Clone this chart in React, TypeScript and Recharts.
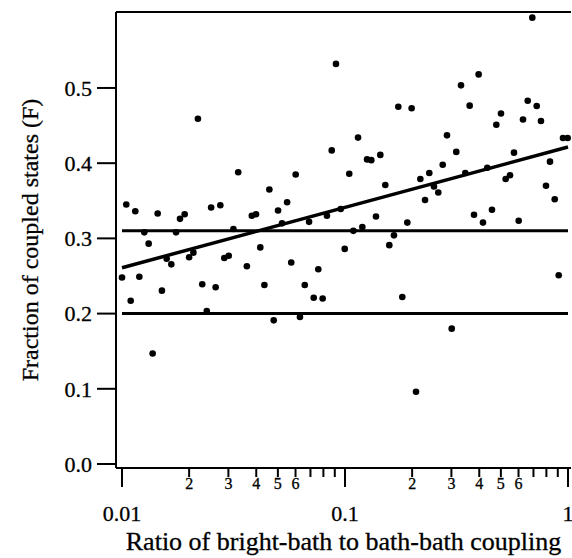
import { ScatterChart, Scatter, XAxis, YAxis, ReferenceLine } from 'recharts'

// coupling ratio (x) and fraction of coupled states (y) for each run
const ratio = [
  0.01, 0.01045, 0.01094, 0.01147, 0.01196, 0.01259, 0.01317, 0.01372, 0.01445, 0.0151,
  0.01586, 0.01664, 0.01747, 0.0182, 0.0191, 0.02, 0.0209, 0.0219, 0.0229, 0.024,
  0.0251, 0.0263, 0.0276, 0.02875, 0.0301, 0.0316, 0.0332, 0.0363, 0.0382, 0.0399,
  0.0417, 0.0435, 0.0458, 0.0479, 0.0501, 0.0522, 0.055, 0.0574, 0.0601, 0.0628,
  0.066, 0.069, 0.0724, 0.0759, 0.0794, 0.083, 0.0872, 0.0911, 0.0957, 0.0997,
  0.1045, 0.109, 0.1144, 0.1196, 0.1256, 0.1312, 0.1377, 0.144, 0.1516, 0.158,
  0.1658, 0.1734, 0.1807, 0.1903, 0.199, 0.2082, 0.2177, 0.2285, 0.2388, 0.2506,
  0.262, 0.2743, 0.2867, 0.301, 0.3155, 0.3313, 0.3463, 0.3623, 0.3789, 0.3975,
  0.4157, 0.4345, 0.4561, 0.4771, 0.5006, 0.5255, 0.5495, 0.5726, 0.601, 0.6284,
  0.6597, 0.6918, 0.7239, 0.7565, 0.7967, 0.8304, 0.8719, 0.9085, 0.9497, 0.9965,
]
const fraction = [
  0.248, 0.345, 0.217, 0.336, 0.249, 0.308, 0.293, 0.147, 0.333, 0.2305,
  0.273, 0.2655, 0.308, 0.326, 0.332, 0.275, 0.281, 0.459, 0.239, 0.2035,
  0.341, 0.235, 0.344, 0.274, 0.277, 0.3125, 0.388, 0.263, 0.33, 0.332,
  0.288, 0.238, 0.365, 0.191, 0.337, 0.32, 0.348, 0.268, 0.385, 0.1955,
  0.238, 0.322, 0.221, 0.259, 0.22, 0.33, 0.417, 0.532, 0.339, 0.286,
  0.386, 0.31, 0.434, 0.315, 0.405, 0.404, 0.329, 0.411, 0.371, 0.291,
  0.304, 0.475, 0.222, 0.321, 0.473, 0.096, 0.379, 0.351, 0.387, 0.369,
  0.361, 0.398, 0.437, 0.18, 0.415, 0.5035, 0.387, 0.4765, 0.3315, 0.518,
  0.321, 0.394, 0.338, 0.451, 0.466, 0.379, 0.384, 0.414, 0.3235, 0.458,
  0.483, 0.5935, 0.476, 0.456, 0.37, 0.402, 0.352, 0.251, 0.4335, 0.4335,
]

// linear fit in log(x)
const fitX = [0.01, 1]
const fitY = [0.261, 0.4215]
// horizontal reference levels
const levels = [0.31, 0.2]

const xTicks = [
  0.01, 0.02, 0.03, 0.04, 0.05, 0.06, 0.07, 0.08, 0.09,
  0.1, 0.2, 0.3, 0.4, 0.5, 0.6, 0.7, 0.8, 0.9, 1,
]
const yTicks = [0, 0.1, 0.2, 0.3, 0.4, 0.5]

const points = ratio.map((x, i) => ({ x, y: fraction[i] }))
const fit = fitX.map((x, i) => ({ x, y: fitY[i] }))
const levelLines = levels.map((y) => [{ x: 0.01, y }, { x: 1, y }])

const FONT = 'Liberation Serif'
const X_DOMAIN = [0.009399, 1.0315]
const Y_DOMAIN = [-0.0053, 0.601]

function XTick(props: any) {
  const { x, y, payload } = props
  const v = payload.value
  const lg = Math.log10(v)
  const major = Math.abs(lg - Math.round(lg)) < 1e-6
  const mant = Math.round(v / Math.pow(10, Math.floor(lg + 1e-9)))
  return (
    <g>
      <line x1={x} x2={x} y1={y} y2={y + (major ? 19 : 9)} stroke="#000" strokeWidth={2} />
      {major && (
        <text x={x} y={y + 53} textAnchor="middle" fontFamily={FONT} fontSize={22} fill="#000" stroke="#000" strokeWidth={0.3}>
          {v === 1 ? '1' : String(v)}
        </text>
      )}
      {!major && mant <= 6 && (
        <text x={x} y={y + 21} textAnchor="middle" fontFamily={FONT} fontSize={16} fill="#000" stroke="#000" strokeWidth={0.3}>
          {mant}
        </text>
      )}
    </g>
  )
}

const dot = (p: any) => <circle cx={p.cx} cy={p.cy} r={3.3} fill="#000" />
const none = () => <g />

export default function App() {
  return (
    <div style={{ position: 'absolute', left: 0, top: 0, background: '#fff' }}>
      <ScatterChart width={572} height={558} margin={{ top: 12, right: 1, bottom: 0, left: 0 }}>
        <XAxis
          dataKey="x"
          type="number"
          scale="log"
          domain={X_DOMAIN}
          allowDataOverflow
          ticks={xTicks}
          interval={0}
          tick={<XTick />}
          tickLine={false}
          tickSize={0}
          tickMargin={0}
          height={90}
          axisLine={{ stroke: '#000', strokeWidth: 2 }}
          label={(p: any) => (
            <text
              x={p.viewBox.x + p.viewBox.width / 2}
              y={550}
              textAnchor="middle"
              fontFamily={FONT}
              fontSize={26}
              fill="#000"
              stroke="#000"
              strokeWidth={0.3}
            >
              Ratio of bright-bath to bath-bath coupling
            </text>
          )}
        />
        <YAxis
          dataKey="y"
          type="number"
          domain={Y_DOMAIN}
          allowDataOverflow
          ticks={yTicks}
          interval={0}
          width={116}
          tickSize={19}
          tickMargin={5}
          tickFormatter={(v: number) => v.toFixed(1)}
          tick={{ fill: '#000', fontFamily: FONT, fontSize: 22, stroke: '#000', strokeWidth: 0.3 }}
          tickLine={{ stroke: '#000', strokeWidth: 2 }}
          axisLine={{ stroke: '#000', strokeWidth: 2 }}
          label={(p: any) => {
            const cx = 30
            const cy = p.viewBox.y + p.viewBox.height / 2
            return (
              <text
                x={cx}
                y={cy}
                transform={`rotate(-90 ${cx} ${cy})`}
                textAnchor="middle"
                dominantBaseline="central"
                fontFamily={FONT}
                fontSize={24}
                fill="#000"
                stroke="#000"
                strokeWidth={0.3}
              >
                Fraction of coupled states (F)
              </text>
            )
          }}
        />
        <ReferenceLine y={Y_DOMAIN[1]} stroke="#000" strokeWidth={2} />
        {levelLines.map((d, i) => (
          <Scatter
            key={i}
            data={d}
            line={{ stroke: '#000', strokeWidth: 3 }}
            shape={none}
            isAnimationActive={false}
          />
        ))}
        <Scatter data={fit} line={{ stroke: '#000', strokeWidth: 3.5 }} shape={none} isAnimationActive={false} />
        <Scatter data={points} shape={dot} isAnimationActive={false} />
      </ScatterChart>
    </div>
  )
}
